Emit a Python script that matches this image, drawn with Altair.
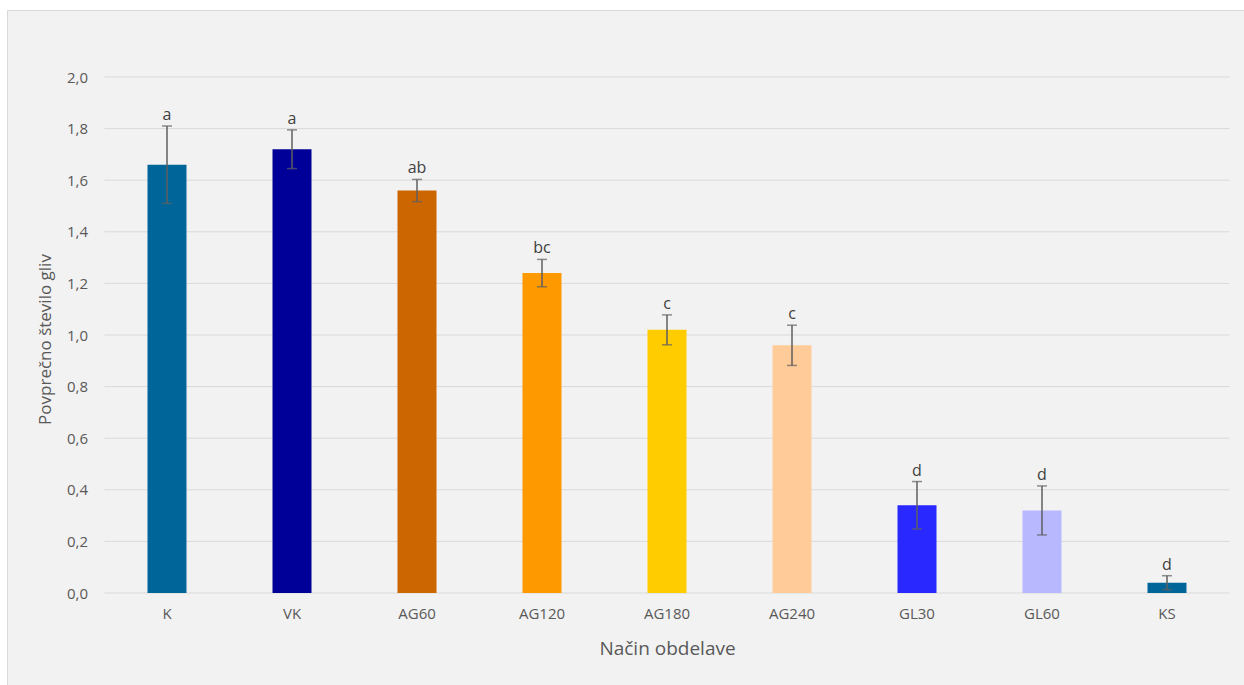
import altair as alt
import pandas as pd

categories = ["K", "VK", "AG60", "AG120", "AG180", "AG240", "GL30", "GL60", "KS"]
means = [1.66, 1.72, 1.56, 1.24, 1.02, 0.96, 0.34, 0.32, 0.04]
errors = [0.15, 0.075, 0.043, 0.053, 0.058, 0.078, 0.092, 0.095, 0.027]
letters = ["a", "a", "ab", "bc", "c", "c", "d", "d", "d"]
colors = ["#006699", "#000099", "#CC6600", "#FF9900", "#FFCC00", "#FFCC99", "#2929FF", "#B8B8FF", "#006699"]
y_ticks = [0.0, 0.2, 0.4, 0.6, 0.8, 1.0, 1.2, 1.4, 1.6, 1.8, 2.0]

df = pd.DataFrame({"cat": categories, "mean": means, "err": errors, "letter": letters})
grid_df = pd.DataFrame({"v": y_ticks})

FONT = "Open Sans"
W, H = 1125, 516

xaxis = alt.Axis(title="Način obdelave", labelFont=FONT, labelFontSize=15, labelColor="#595959",
                 labelPadding=13, ticks=False, domain=False, grid=False, labelAngle=0, zindex=1,
                 titleFont=FONT, titleFontSize=19, titleFontWeight="normal", titleColor="#595959",
                 titleY=55, titleBaseline="middle")
yaxis = alt.Axis(title="Povprečno število gliv", values=y_ticks, grid=False, ticks=False, domain=False,
                 labelExpr="replace(format(datum.value, '.1f'), '.', ',')", zindex=1,
                 labelFont=FONT, labelFontSize=15, labelColor="#595959", labelPadding=17,
                 titleFont=FONT, titleFontSize=17, titleFontWeight="normal", titleColor="#595959",
                 titleX=-59.5, titleY=262, titleBaseline="middle", titleAlign="center", titleAngle=-90)
xscale = alt.Scale(domain=categories, paddingInner=0.688, paddingOuter=0.344)
yscale = alt.Scale(domain=[0, 2.0], nice=False)

def X():
    return alt.X("cat:N", sort=categories, scale=xscale, axis=xaxis)

frame = alt.Chart(pd.DataFrame({"a": [0]})).mark_rect(fill="#F2F2F2", stroke="#D9D9D9", strokeWidth=1).encode(
    x=alt.value(-97), x2=alt.value(1200), y=alt.value(-66.5), y2=alt.value(700))

grid = alt.Chart(grid_df).mark_rule(color="#D9D9D9", strokeWidth=1).encode(
    y=alt.Y("v:Q", scale=yscale, axis=yaxis),
    x=alt.value(0), x2=alt.value(W))

base = alt.Chart(df)
bars = base.mark_bar(size=39).encode(
    x=X(),
    y=alt.Y("mean:Q", scale=yscale, axis=yaxis),
    color=alt.Color("cat:N", scale=alt.Scale(domain=categories, range=colors), legend=None))

eb = base.transform_calculate(lo="datum.mean - datum.err", hi="datum.mean + datum.err")
rules = eb.mark_rule(color="#5F5F5F", strokeWidth=1.5).encode(
    x=X(), y=alt.Y("lo:Q", scale=yscale, axis=yaxis), y2="hi:Q")
caps_hi = eb.mark_tick(color="#5F5F5F", thickness=1.5, size=10, orient="horizontal").encode(
    x=X(), y=alt.Y("hi:Q", scale=yscale, axis=yaxis))
caps_lo = eb.mark_tick(color="#5F5F5F", thickness=1.5, size=10, orient="horizontal").encode(
    x=X(), y=alt.Y("lo:Q", scale=yscale, axis=yaxis))
labels = eb.mark_text(font=FONT, fontSize=16, color="#404040", baseline="bottom", dy=-3).encode(
    x=X(), y=alt.Y("hi:Q", scale=yscale, axis=yaxis), text="letter:N")

chart = alt.layer(frame, grid, bars, rules, caps_hi, caps_lo, labels).resolve_scale(y="shared").properties(
    width=W, height=H,
    autosize=alt.AutoSizeParams(type="none"),
    padding={"left": 104.5, "top": 77, "right": 14.5, "bottom": 92},
    background="white",
).configure_view(stroke=None)

chart.save("out.html", embed_options={"renderer": "svg", "actions": False})
